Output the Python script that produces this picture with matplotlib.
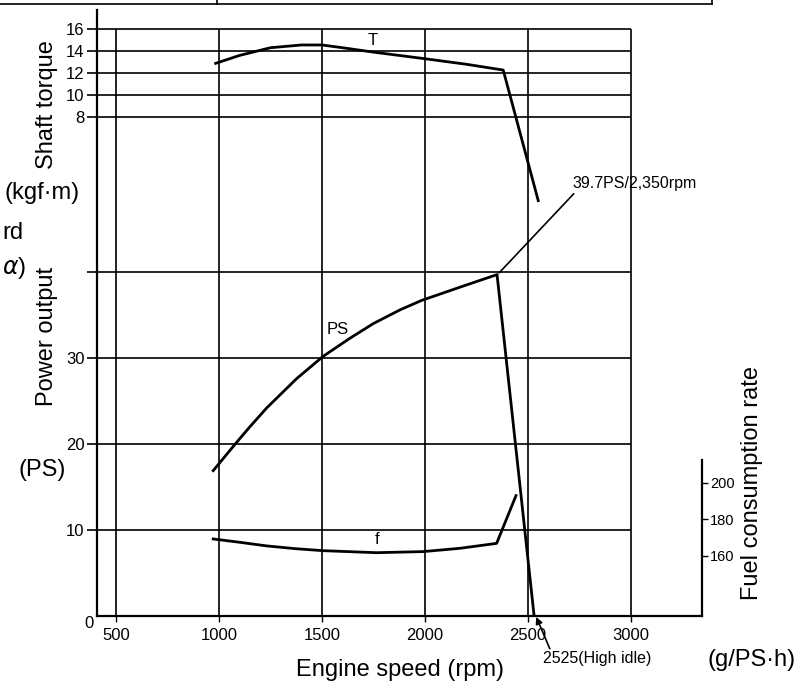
import matplotlib.pyplot as plt
from matplotlib.lines import Line2D

plt.rcParams['font.family'] = ['Liberation Sans', 'DejaVu Sans']

# Data
rpm_ps = [972, 1086, 1150, 1232, 1377, 1506, 1636, 1749, 1879, 1984, 2105, 2202, 2350, 2530]
power_ps = [16.9, 20.2, 22.0, 24.2, 27.6, 30.2, 32.3, 34.0, 35.6, 36.7, 37.7, 38.5, 39.7, 0.0]

rpm_t = [984, 1100, 1250, 1400, 1500, 1600, 1750, 2000, 2200, 2380, 2550]
torque = [12.88, 13.6, 14.3, 14.55, 14.55, 14.3, 13.9, 13.3, 12.8, 12.27, 0.4]

rpm_f = [972, 1100, 1232, 1370, 1506, 1765, 1992, 2170, 2348, 2442]
fuel = [169.3, 167.5, 165.5, 164.0, 162.9, 161.8, 162.4, 164.2, 166.9, 193.0]

rpm_ticks = [500, 1000, 1500, 2000, 2500, 3000]
ps_ticks = [10, 20, 30, 40]
ps_labels = ['10', '20', '30', '']
torque_ticks = [8, 10, 12, 14, 16]
fuel_ticks = [160, 180, 200]

fig = plt.figure(figsize=(8.1, 6.87), dpi=100)
ax = fig.add_axes([97 / 810, 71 / 687, 605 / 810, 606 / 687])
ax.set_xlim(408, 3345)
ax.set_ylim(0, 70.47)

# torque axis (shares figure area, ticks on the left)
tx = ax.twinx()
tx.set_ylim(-37.36, 17.73)
# fuel axis (right spine, partial)
fx = ax.twinx()
fx.set_ylim(127.2, 458.4)

for a in (ax, tx, fx):
    for s in a.spines.values():
        s.set_visible(False)
    a.patch.set_visible(False)

ax.spines['left'].set_visible(True)
ax.spines['bottom'].set_visible(True)
ax.spines['left'].set_linewidth(1.6)
ax.spines['bottom'].set_linewidth(1.6)
fx.spines['right'].set_visible(True)
fx.spines['right'].set_linewidth(1.6)
fx.spines['right'].set_bounds(127.2, 212.5)

lc = 'black'
x0 = ax.get_xlim()[0]

# grid lines
ax.hlines(ps_ticks, x0, 3000, color=lc, lw=1.2)
tx.hlines(torque_ticks, x0, 3000, color=lc, lw=1.2)
tx.vlines(rpm_ticks, tx.get_ylim()[0], 16, color=lc, lw=1.2)

# ticks
ax.set_xticks(rpm_ticks)
ax.tick_params(axis='x', direction='out', length=4, width=1, labelsize=12, pad=5)
ax.set_yticks(ps_ticks)
ax.set_yticklabels(ps_labels)
ax.tick_params(axis='y', direction='out', length=7, width=1.2, labelsize=12, pad=2)

tx.yaxis.tick_left()
tx.set_yticks(torque_ticks)
tx.tick_params(axis='y', direction='out', length=7, width=1.2, labelsize=12, pad=2)

fx.set_yticks(fuel_ticks)
fx.tick_params(axis='y', direction='out', length=4, width=1, labelsize=10.5, pad=2)

ax.text(-0.0132, -0.012, '0', transform=ax.transAxes, ha='center', va='center', fontsize=12)

# curves
ax.plot(rpm_ps, power_ps, color=lc, lw=2)
tx.plot(rpm_t, torque, color=lc, lw=2)
fx.plot(rpm_f, fuel, color=lc, lw=2)

tx.text(1747, 15.0, 'T', fontsize=12, ha='center', va='center')
ax.text(1578, 33.3, 'PS', fontsize=12, ha='center', va='center')
fx.text(1767, 169, 'f', fontsize=12, ha='center', va='center')

ax.annotate('39.7PS/2,350rpm', xy=(2360, 39.9), xytext=(2718, 50.3),
            ha='left', va='center', fontsize=11.5,
            arrowprops=dict(arrowstyle='-', color=lc, lw=1.2, relpos=(0.04, 0.1),
                            shrinkA=0, shrinkB=0),
            annotation_clip=False)
ax.annotate('2525(High idle)', xy=(2540, -0.1), xytext=(2573, -5.0),
            ha='left', va='center', fontsize=11.5,
            arrowprops=dict(arrowstyle='-|>', color=lc, lw=1.2, relpos=(0.08, 0.9),
                            mutation_scale=10, shrinkA=0, shrinkB=0),
            annotation_clip=False)

# axis labels
fs = 17
fig.text(47 / 810, 1 - 105 / 687, 'Shaft torque', rotation=90, ha='center', va='center', fontsize=fs)
fig.text(42 / 810, 1 - 193 / 687, '(kgf·m)', ha='center', va='center', fontsize=fs)
fig.text(2 / 810, 1 - 233 / 687, 'rd', ha='left', va='center', fontsize=fs)
fig.text(2 / 810, 1 - 268 / 687, r'$\alpha$)', ha='left', va='center', fontsize=fs)
fig.text(47 / 810, 1 - 336 / 687, 'Power output', rotation=90, ha='center', va='center', fontsize=fs)
fig.text(42 / 810, 1 - 470 / 687, '(PS)', ha='center', va='center', fontsize=fs)
fig.text(752 / 810, 1 - 483 / 687, 'Fuel consumption rate', rotation=90, ha='center', va='center', fontsize=fs)
fig.text(752 / 810, 1 - 660 / 687, '(g/PS·h)', ha='center', va='center', fontsize=fs)
fig.text(400 / 810, 1 - 670 / 687, 'Engine speed (rpm)', ha='center', va='center', fontsize=fs)

# frame remnant at top of page
fig.add_artist(Line2D([0, 712 / 810], [1 - 4 / 687, 1 - 4 / 687], color=lc, lw=1.2))
fig.add_artist(Line2D([712 / 810, 712 / 810], [1, 1 - 4 / 687], color=lc, lw=1.2))
fig.add_artist(Line2D([217 / 810, 217 / 810], [1, 1 - 4 / 687], color=lc, lw=1.2))

fig.savefig('out.png', dpi=100)
